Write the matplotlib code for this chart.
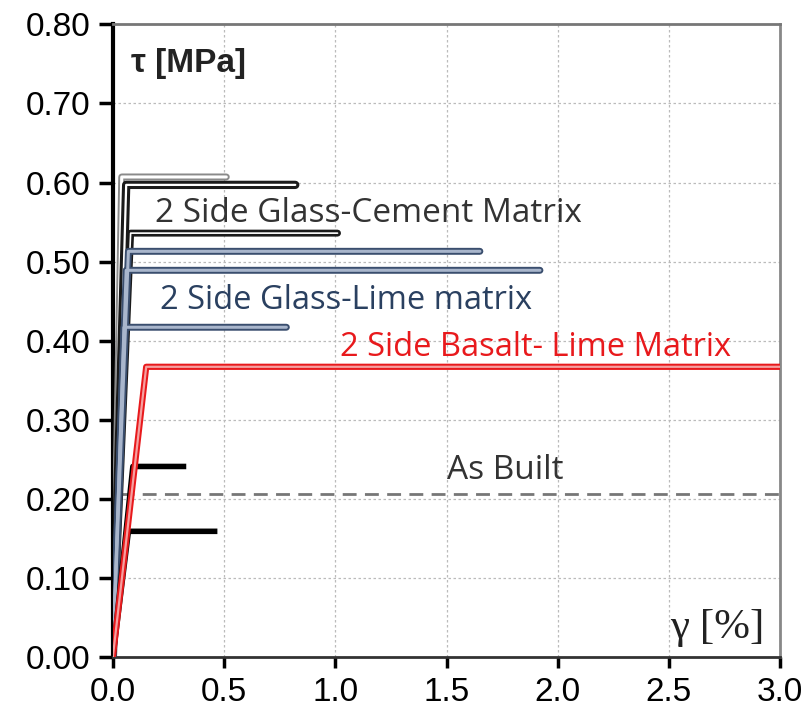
import matplotlib
matplotlib.use("Agg")
import matplotlib.pyplot as plt

plt.rcParams['font.family'] = ['Liberation Sans', 'DejaVu Sans']

# Bilinear curves: peak strain, peak stress, ultimate strain
cement_peak_x = [0.04, 0.06, 0.08]
cement_peak_y = [0.607, 0.597, 0.536]
cement_end_x = [0.51, 0.82, 1.01]

lime_peak_x = [0.07, 0.06, 0.05]
lime_peak_y = [0.513, 0.489, 0.417]
lime_end_x = [1.65, 1.92, 0.78]

basalt_peak_x = [0.15]
basalt_peak_y = [0.367]
basalt_end_x = [3.0]

short_peak_x = [0.09, 0.07]
short_peak_y = [0.241, 0.159]
short_end_x = [0.33, 0.47]

as_built_y = 0.206
as_built_x = [0.03, 3.0]

xticks = [0.0, 0.5, 1.0, 1.5, 2.0, 2.5, 3.0]
yticks = [0.0, 0.1, 0.2, 0.3, 0.4, 0.5, 0.6, 0.7, 0.8]

fig = plt.figure(figsize=(8.06, 7.15), dpi=100)
ax = fig.add_axes([0.140, 0.081, 0.828, 0.885])

def curve(px, py, ex):
    return [0, px, ex], [0, py, py]

def draw(px, py, ex, outer, inner, lw_o=5.0, lw_i=2.0, z=3):
    xs, ys = curve(px, py, ex)
    ax.plot(xs, ys, color=outer, lw=lw_o, solid_capstyle='round', solid_joinstyle='round', zorder=z)
    if inner is not None:
        ax.plot(xs, ys, color=inner, lw=lw_i, solid_capstyle='round', solid_joinstyle='round', zorder=z + 0.1)

# Glass-Cement
draw(cement_peak_x[0], cement_peak_y[0], cement_end_x[0], '#8a8a8a', 'white', 5.0, 2.2, 3)
draw(cement_peak_x[1], cement_peak_y[1], cement_end_x[1], '#1a1a1a', 'white', 6.0, 1.6, 3.2)
draw(cement_peak_x[2], cement_peak_y[2], cement_end_x[2], '#1a1a1a', 'white', 5.0, 1.2, 3.3)

# Glass-Lime
for px, py, ex in zip(lime_peak_x, lime_peak_y, lime_end_x):
    draw(px, py, ex, '#3a4e6e', '#a9b6cc', 5.0, 2.2, 3.4)

# Basalt-Lime
draw(basalt_peak_x[0], basalt_peak_y[0], basalt_end_x[0], '#e8191c', '#f5a0a0', 4.5, 1.6, 3.6)

# Short black curves
for px, py, ex in zip(short_peak_x, short_peak_y, short_end_x):
    xs, ys = curve(px, py, ex)
    ax.plot(xs, ys, color='black', lw=4.0, solid_capstyle='butt', zorder=3.5)

# As Built
ax.plot(as_built_x, [as_built_y, as_built_y], color='#777777', lw=2.0,
        dashes=(5, 3), zorder=3)

ax.set_xlim(0, 3.0)
ax.set_ylim(0, 0.8)
ax.set_xticks(xticks)
ax.set_yticks(yticks)
ax.set_xticklabels([f"{v:.1f}" for v in xticks], fontsize=24)
ax.set_yticklabels([f"{v:.2f}" for v in yticks], fontsize=24)
ax.tick_params(axis='both', direction='out', length=8, width=2.5, color='black', pad=6)
ax.tick_params(axis='y', length=10)

ax.grid(True, color='#bbbbbb', linestyle=(0, (2, 2)), lw=0.9)
ax.set_axisbelow(True)

ax.spines['left'].set_linewidth(3.0)
ax.spines['left'].set_color('black')
ax.spines['bottom'].set_linewidth(2.0)
ax.spines['bottom'].set_color('#333333')
ax.spines['top'].set_linewidth(2.0)
ax.spines['top'].set_color('#777777')
ax.spines['right'].set_linewidth(2.0)
ax.spines['right'].set_color('#888888')

ax.text(0.08, 0.75, "τ [MPa]", fontsize=24, fontweight='bold', color='#222222',
        ha='left', va='center')
ax.text(2.93, 0.037, "γ [%]", fontsize=31, family=['Liberation Serif', 'DejaVu Serif'],
        color='#222222', ha='right', va='center')

ax.text(0.19, 0.561, "2 Side Glass-Cement Matrix", fontsize=24, color='#333333',
        family=['Open Sans', 'DejaVu Sans'], ha='left', va='center')
ax.text(0.21, 0.451, "2 Side Glass-Lime matrix", fontsize=23.5, color='#2a4060',
        family=['Open Sans', 'DejaVu Sans'], ha='left', va='center')
ax.text(1.02, 0.391, "2 Side Basalt- Lime Matrix", fontsize=23.5, color='#e8191c',
        family=['Open Sans', 'DejaVu Sans'], ha='left', va='center')
ax.text(1.50, 0.236, "As Built", fontsize=24, color='#333333',
        family=['Open Sans', 'DejaVu Sans'], ha='left', va='center')

fig.savefig("out.png", dpi=100)
